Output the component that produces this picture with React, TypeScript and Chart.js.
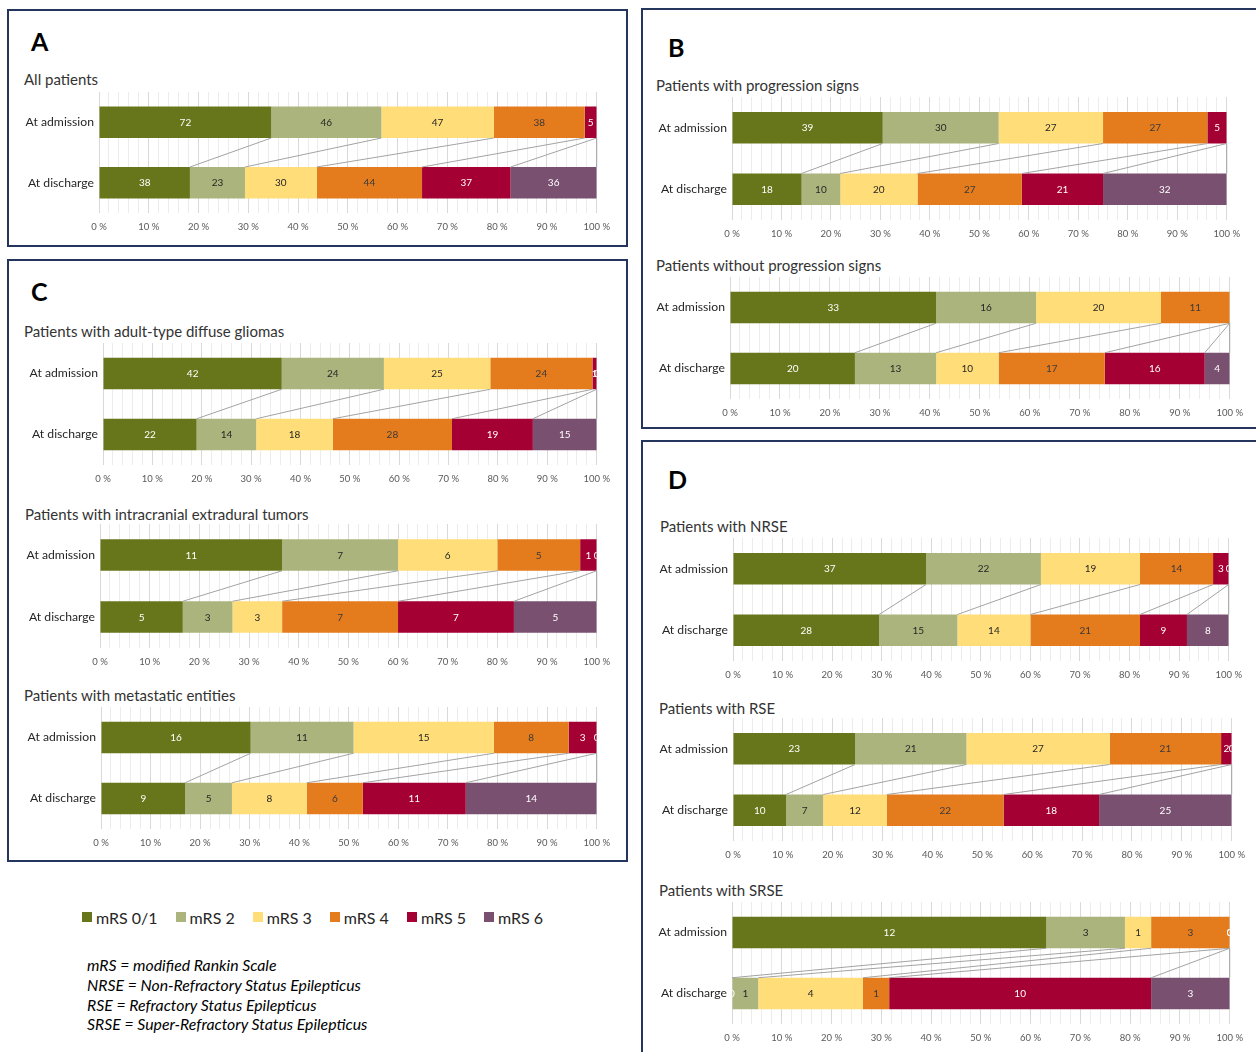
import React, { useEffect, useRef } from 'react';
import { Chart, registerables } from 'chart.js';

Chart.register(...registerables);

const FONT = "Lato, 'Open Sans', sans-serif";

const SERIES = ['mRS 0/1', 'mRS 2', 'mRS 3', 'mRS 4', 'mRS 5', 'mRS 6'];
const COLORS = ['#68761b', '#abb47d', '#ffdd78', '#e47c1e', '#a50034', '#7a5070'];
const LABEL_COLORS = ['#ffffff', '#262626', '#262626', '#3a3a3a', '#ffffff', '#ffffff'];
const CATEGORIES = ['At admission', 'At discharge'];
const TICK_LABELS = ['0 %', '10 %', '20 %', '30 %', '40 %', '50 %', '60 %', '70 %', '80 %', '90 %', '100 %'];

// counts per mRS class (mRS 0/1, 2, 3, 4, 5, 6)
const ALL_ADM = [72, 46, 47, 38, 5, 0];
const ALL_DIS = [38, 23, 30, 44, 37, 36];
const PROG_ADM = [39, 30, 27, 27, 5, 0];
const PROG_DIS = [18, 10, 20, 27, 21, 32];
const NOPROG_ADM = [33, 16, 20, 11, 0, 0];
const NOPROG_DIS = [20, 13, 10, 17, 16, 4];
const GLIOMA_ADM = [42, 24, 25, 24, 1, 0];
const GLIOMA_DIS = [22, 14, 18, 28, 19, 15];
const EXTRA_ADM = [11, 7, 6, 5, 1, 0];
const EXTRA_DIS = [5, 3, 3, 7, 7, 5];
const META_ADM = [16, 11, 15, 8, 3, 0];
const META_DIS = [9, 5, 8, 6, 11, 14];
const NRSE_ADM = [37, 22, 19, 14, 3, 0];
const NRSE_DIS = [28, 15, 14, 21, 9, 8];
const RSE_ADM = [23, 21, 27, 21, 2, 0];
const RSE_DIS = [10, 7, 12, 22, 18, 25];
const SRSE_ADM = [12, 3, 1, 3, 0, 0];
const SRSE_DIS = [0, 1, 4, 1, 10, 3];

const FOOTNOTES = [
  'mRS = modified Rankin Scale',
  'NRSE = Non-Refractory Status Epilepticus',
  'RSE = Refractory Status Epilepticus',
  'SRSE = Super-Refractory Status Epilepticus',
];

type Cfg = {
  title: string;
  adm: number[];
  dis: number[];
  showZero: boolean;
  titleX: number;
  titleY: number;
  x0: number;
  x100: number;
  yA: number;
  yD: number;
};

const CHARTS: Cfg[] = [
  { title: 'All patients', adm: ALL_ADM, dis: ALL_DIS, showZero: false, titleX: 24, titleY: 79, x0: 99, x100: 598, yA: 122.5, yD: 183 },
  { title: 'Patients with progression signs', adm: PROG_ADM, dis: PROG_DIS, showZero: false, titleX: 656, titleY: 85, x0: 732, x100: 1228, yA: 128, yD: 189.5 },
  { title: 'Patients without progression signs', adm: NOPROG_ADM, dis: NOPROG_DIS, showZero: false, titleX: 656, titleY: 265, x0: 730, x100: 1231, yA: 307, yD: 368 },
  { title: 'Patients with adult-type diffuse gliomas', adm: GLIOMA_ADM, dis: GLIOMA_DIS, showZero: true, titleX: 24, titleY: 331, x0: 103, x100: 598, yA: 373, yD: 434 },
  { title: 'Patients with intracranial extradural tumors', adm: EXTRA_ADM, dis: EXTRA_DIS, showZero: true, titleX: 25, titleY: 514, x0: 100, x100: 598, yA: 555, yD: 617 },
  { title: 'Patients with metastatic entities', adm: META_ADM, dis: META_DIS, showZero: true, titleX: 24, titleY: 695, x0: 101, x100: 598, yA: 737, yD: 798 },
  { title: 'Patients with NRSE', adm: NRSE_ADM, dis: NRSE_DIS, showZero: true, titleX: 660, titleY: 526, x0: 733, x100: 1230, yA: 568.5, yD: 630 },
  { title: 'Patients with RSE', adm: RSE_ADM, dis: RSE_DIS, showZero: true, titleX: 659, titleY: 708, x0: 733, x100: 1233, yA: 749, yD: 810.5 },
  { title: 'Patients with SRSE', adm: SRSE_ADM, dis: SRSE_DIS, showZero: true, titleX: 659, titleY: 890, x0: 732, x100: 1231, yA: 932, yD: 993 },
];

const sum = (a: number[]) => a.reduce((s, v) => s + v, 0);

const Y_AXIS_W = 92;
const TOP_PAD = 16;
const RIGHT = 20;
const XAXIS_H = 26;

function BarChart({ cfg }: { cfg: Cfg }) {
  const ref = useRef<HTMLCanvasElement>(null);
  const spacing = cfg.yD - cfg.yA;
  const chartTop = Math.round(cfg.yA - spacing / 2);
  const chartBottom = Math.round(cfg.yD + spacing / 2);
  const canvasTop = chartTop - TOP_PAD;
  const canvasLeft = Math.round(cfg.x0) - Y_AXIS_W;
  const width = Math.round(cfg.x100) - canvasLeft + RIGHT;
  const height = chartBottom - canvasTop + XAXIS_H;
  const barPct = 31.5 / spacing;

  useEffect(() => {
    if (!ref.current) return;
    const totA = sum(cfg.adm);
    const totD = sum(cfg.dis);
    const datasets = SERIES.map((s, i) => ({
      label: s,
      data: [(cfg.adm[i] / totA) * 100, (cfg.dis[i] / totD) * 100],
      backgroundColor: COLORS[i],
      borderWidth: 0,
      barPercentage: barPct,
      categoryPercentage: 1,
    }));

    const overlay = {
      id: 'overlay',
      afterDatasetsDraw(chart: any) {
        const ctx = chart.ctx as CanvasRenderingContext2D;
        const area = chart.chartArea;
        const metas = SERIES.map((_, i) => chart.getDatasetMeta(i));
        ctx.save();
        ctx.strokeStyle = '#a3a3a3';
        ctx.lineWidth = 1;
        metas.forEach((m: any) => {
          const a = m.data[0];
          const d = m.data[1];
          ctx.beginPath();
          ctx.moveTo(a.x, a.y + a.height / 2);
          ctx.lineTo(d.x, d.y - d.height / 2);
          ctx.stroke();
        });
        ctx.beginPath();
        ctx.rect(area.left, area.top, area.right - area.left, area.bottom - area.top);
        ctx.clip();
        ctx.font = `10px ${FONT}`;
        ctx.textAlign = 'center';
        ctx.textBaseline = 'middle';
        metas.forEach((m: any, i: number) => {
          [cfg.adm[i], cfg.dis[i]].forEach((v, j) => {
            if (v === 0 && !cfg.showZero) return;
            const el = m.data[j];
            ctx.fillStyle = LABEL_COLORS[i];
            ctx.fillText(String(v), (el.x + el.base) / 2, el.y + 0.5);
          });
        });
        ctx.restore();
      },
    };

    const chart = new Chart(ref.current, {
      type: 'bar',
      data: { labels: CATEGORIES, datasets },
      options: {
        indexAxis: 'y',
        animation: false,
        responsive: false,
        maintainAspectRatio: false,
        layout: { padding: { left: 0, right: RIGHT, top: TOP_PAD, bottom: 0 } },
        plugins: {
          legend: { display: false },
          tooltip: { enabled: false },
        },
        scales: {
          x: {
            stacked: true,
            min: 0,
            max: 100,
            border: { display: false },
            grid: {
              drawTicks: false,
              color: (c: any) => (c.tick && Math.round(c.tick.value) % 10 === 0 ? '#d9d9d9' : '#ececec'),
              lineWidth: 1,
            },
            ticks: {
              stepSize: 2,
              autoSkip: false,
              maxRotation: 0,
              padding: 8,
              color: '#595959',
              font: { family: FONT, size: 9.5 },
              callback: (v: any) => {
                const n = Math.round(Number(v));
                return n % 10 === 0 ? TICK_LABELS[n / 10] : '';
              },
            },
            afterFit: (s: any) => {
              s.height = XAXIS_H;
            },
          },
          y: {
            stacked: true,
            border: { display: false },
            grid: { display: false, drawTicks: false },
            ticks: {
              padding: 5,
              color: '#262626',
              font: { family: FONT, size: 12.2 },
            },
            afterFit: (s: any) => {
              s.width = Y_AXIS_W;
            },
          },
        },
      },
      plugins: [overlay],
    } as any);
    return () => chart.destroy();
  }, []);

  return (
    <>
      <div
        style={{
          position: 'absolute',
          left: cfg.titleX,
          top: cfg.titleY - 9,
          height: 18,
          lineHeight: '18px',
          fontFamily: FONT,
          fontSize: 15,
          color: '#333333',
          whiteSpace: 'nowrap',
        }}
      >
        {cfg.title}
      </div>
      <canvas
        ref={ref}
        width={width}
        height={height}
        style={{ position: 'absolute', left: canvasLeft, top: canvasTop, width, height }}
      />
    </>
  );
}

const BORDER = '2px solid #24365e';

function Panel({ left, top, width, height, letter, lx, ly }: any) {
  return (
    <>
      <div
        style={{
          position: 'absolute',
          left,
          top,
          width,
          height,
          border: BORDER,
          boxSizing: 'border-box',
        }}
      />
      <div
        style={{
          position: 'absolute',
          left: lx,
          top: ly,
          fontFamily: FONT,
          fontWeight: 'bold',
          fontSize: 25,
          lineHeight: '25px',
          color: '#000',
        }}
      >
        {letter}
      </div>
    </>
  );
}

export default function App() {
  return (
    <div
      style={{
        position: 'absolute',
        left: 0,
        top: 0,
        width: 1256,
        height: 1052,
        overflow: 'hidden',
        background: '#ffffff',
      }}
    >
      <Panel left={7} top={9} width={621} height={238} letter="A" lx={31} ly={29} />
      <Panel left={641} top={8} width={630} height={421} letter="B" lx={668} ly={35} />
      <Panel left={7} top={259} width={621} height={603} letter="C" lx={31} ly={279} />
      <Panel left={641} top={440} width={630} height={640} letter="D" lx={668} ly={467} />
      {CHARTS.map((c, i) => (
        <BarChart key={i} cfg={c} />
      ))}
      <div
        style={{
          position: 'absolute',
          left: 82,
          top: 906,
          height: 22,
          display: 'flex',
          alignItems: 'center',
          fontFamily: FONT,
          fontSize: 16,
          color: '#262626',
          whiteSpace: 'nowrap',
        }}
      >
        {SERIES.map((s, i) => (
          <span key={s} style={{ display: 'flex', alignItems: 'center', marginRight: 18 }}>
            <span style={{ display: 'inline-block', width: 10, height: 10, background: COLORS[i], marginRight: 4 }} />
            {s}
          </span>
        ))}
      </div>
      {FOOTNOTES.map((t, i) => (
        <div
          key={t}
          style={{
            position: 'absolute',
            left: 87,
            top: 955 + i * 19.8,
            fontFamily: FONT,
            fontStyle: 'italic',
            fontSize: 15.8,
            lineHeight: '20px',
            color: '#000',
            whiteSpace: 'nowrap',
          }}
        >
          {t}
        </div>
      ))}
    </div>
  );
}
